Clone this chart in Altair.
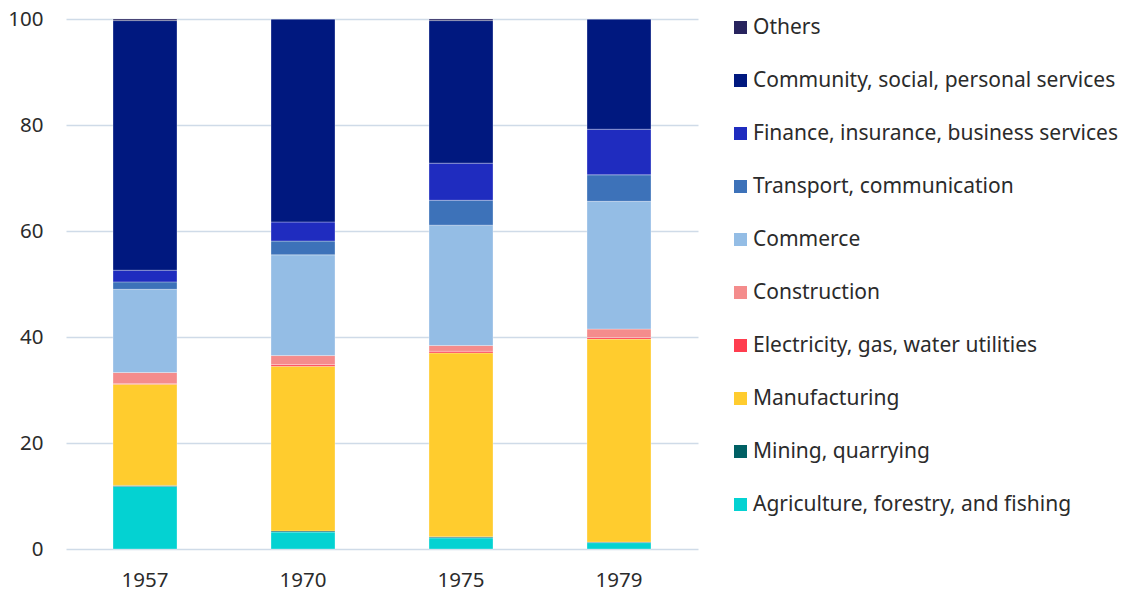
import altair as alt
import pandas as pd

years = ["1957", "1970", "1975", "1979"]
sectors = [
    "Agriculture, forestry, and fishing",
    "Mining, quarrying",
    "Manufacturing",
    "Electricity, gas, water utilities",
    "Construction",
    "Commerce",
    "Transport, communication",
    "Finance, insurance, business services",
    "Community, social, personal services",
    "Others",
]
colors = ["#04d2d2", "#006064", "#ffcc2e", "#ff3d4f", "#f48c8c",
          "#94bde5", "#3d72b9", "#1f2cbf", "#00187f", "#28245e"]

agriculture = [11.8, 3.2, 2.1, 1.2]
mining = [0.2, 0.2, 0.2, 0.1]
manufacturing = [19.1, 31.1, 34.7, 38.3]
electricity = [0.1, 0.3, 0.3, 0.3]
construction = [2.1, 1.7, 1.1, 1.6]
commerce = [15.7, 19.0, 22.7, 24.1]
transport = [1.4, 2.6, 4.7, 5.0]
finance = [2.2, 3.6, 7.0, 8.6]
community = [47.1, 38.3, 26.9, 20.8]
others = [0.3, 0.0, 0.3, 0.0]

series = [agriculture, mining, manufacturing, electricity, construction,
          commerce, transport, finance, community, others]

rows = []
for i, (name, vals) in enumerate(zip(sectors, series)):
    for y, v in zip(years, vals):
        rows.append({"year": y, "sector": name, "value": v, "order": i})
df = pd.DataFrame(rows)

font = "Noto Sans"
text_color = "#2b2b2b"

chart = alt.Chart(df).mark_bar(
    size=64, stroke="white", strokeWidth=0.6, strokeOpacity=0.5
).encode(
    x=alt.X("year:N", title=None, sort=years,
            scale=alt.Scale(paddingInner=0, paddingOuter=0),
            axis=alt.Axis(labelAngle=0, ticks=False, domain=False,
                          labelPadding=21, labelFontSize=20.5, labelFont=font,
                          labelColor=text_color)),
    y=alt.Y("value:Q", title=None, stack="zero",
            scale=alt.Scale(domain=[0, 100], nice=False),
            axis=alt.Axis(values=[0, 20, 40, 60, 80, 100], ticks=False,
                          domain=False, labelPadding=23, labelFontSize=20.5,
                          labelFont=font, labelColor=text_color,
                          gridColor="#cfdbe8", gridWidth=1.5)),
    color=alt.Color("sector:N", sort=sectors[::-1],
                    scale=alt.Scale(domain=sectors[::-1], range=colors[::-1]),
                    legend=alt.Legend(title=None, orient="none",
                                      legendX=664, legendY=-2,
                                      padding=0, symbolType="square",
                                      symbolSize=169, symbolStrokeWidth=0,
                                      labelFontSize=21, labelFont=font,
                                      labelColor=text_color, rowPadding=31,
                                      labelOffset=2, labelLimit=500)),
    order=alt.Order("order:Q", sort="ascending"),
).properties(
    width=632, height=530,
    autosize=alt.AutoSizeParams(type="none"),
    padding={"left": 58, "top": 11, "right": 420, "bottom": 45},
).configure_view(stroke=None)

chart.save("out.html", embed_options={"renderer": "svg", "actions": False})
